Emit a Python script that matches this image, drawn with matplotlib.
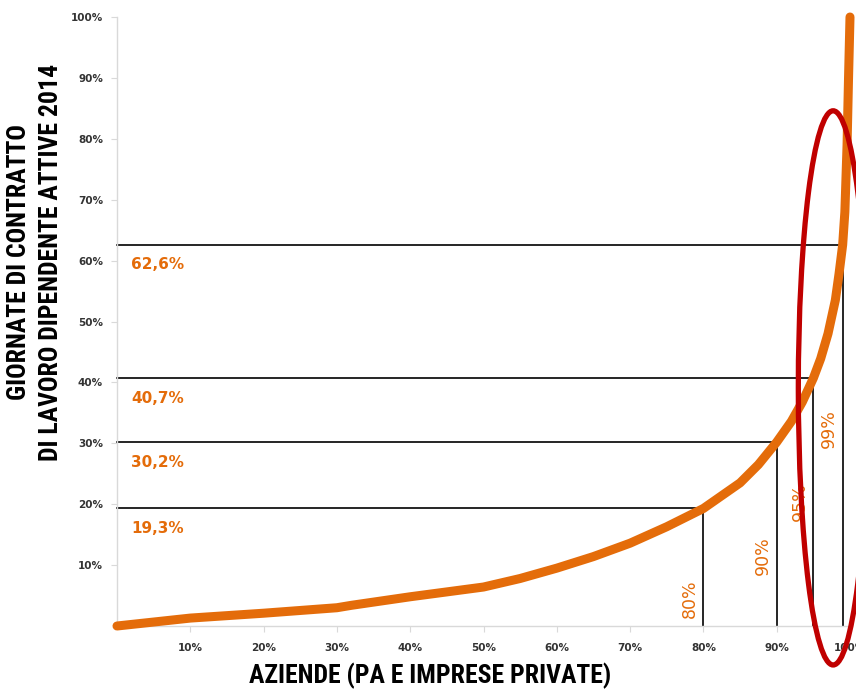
import numpy as np
import matplotlib
matplotlib.use('Agg')
import matplotlib.pyplot as plt
from matplotlib.patches import Ellipse
from matplotlib import font_manager

# Curve data (share of firms vs share of working days)
aziende = [0, 10, 20, 30, 32, 40, 45, 50, 55, 60, 65, 70, 75, 80, 85, 87.5, 90, 92, 93.5, 95,
           96, 97, 98, 98.5, 99, 99.3, 99.6, 99.8, 100]
giornate = [0, 1.3, 2.1, 3.0, 3.4, 4.8, 5.6, 6.4, 7.8, 9.5, 11.4, 13.6, 16.3, 19.3, 23.5, 26.5, 30.2, 33.6, 36.8, 40.7,
            43.9, 48.0, 53.5, 57.8, 62.6, 68, 79, 90, 100]

# Highlighted thresholds
soglie_x = [80, 90, 95, 99]
soglie_y = [19.3, 30.2, 40.7, 62.6]
etichette_x = ['80%', '90%', '95%', '99%']
etichette_y = ['19,3%', '30,2%', '40,7%', '62,6%']

tick_vals = [10, 20, 30, 40, 50, 60, 70, 80, 90, 100]
tick_labels = ['10%', '20%', '30%', '40%', '50%', '60%', '70%', '80%', '90%', '100%']

ORANGE = '#E46C0A'
RED = '#C00000'

# pick a condensed family if one is installed
available = {f.name for f in font_manager.fontManager.ttflist}
narrow = 'DejaVu Sans'
title_size = 14
for cand in ['Liberation Sans Narrow', 'DejaVu Sans Condensed', 'Roboto Condensed', 'Open Sans Condensed']:
    if cand in available:
        narrow = cand
        title_size = 18.5
        break

fig = plt.figure(figsize=(8.56, 6.91), dpi=100)
ax = fig.add_axes([117 / 856, 65 / 691, (850 - 117) / 856, (626 - 17) / 691])
ax.set_xlim(0, 100)
ax.set_ylim(0, 100)

# main curve
ax.plot(aziende, giornate, color=ORANGE, lw=6.5, solid_capstyle='round',
        solid_joinstyle='round', clip_on=False, zorder=3)

# threshold lines and labels
label_y_pos = [4.5, 11.5, 20.5, 32.5]
for sx, sy, lx, ly, py in zip(soglie_x, soglie_y, etichette_x, etichette_y, label_y_pos):
    ax.plot([0, sx, sx], [sy, sy, 0], color='black', lw=1.2, zorder=2, clip_on=False)
    ax.annotate(ly, xy=(0, sy), xytext=(10, -9), textcoords='offset points',
                ha='left', va='top', color=ORANGE, fontsize=11, fontweight='bold')
    ax.annotate(lx, xy=(sx, py), xytext=(-10, 0), textcoords='offset points',
                ha='center', va='center', rotation=90, color=ORANGE, fontsize=12.5)

# red ellipse highlight
ell = Ellipse((97.7, 39.1), width=9.5, height=91, fill=False, edgecolor=RED,
              lw=3.8, clip_on=False, zorder=5)
ax.add_patch(ell)

# axes styling
for s in ['top', 'right']:
    ax.spines[s].set_visible(False)
for s in ['left', 'bottom']:
    ax.spines[s].set_color('#D9D9D9')
    ax.spines[s].set_linewidth(1)
ax.set_xticks(tick_vals)
ax.set_xticklabels(tick_labels)
ax.set_yticks(tick_vals)
ax.set_yticklabels(tick_labels)
ax.tick_params(axis='both', colors='#D9D9D9', labelcolor='#333333', length=4,
               labelsize=7.5)
ax.tick_params(axis='x', pad=8)
ax.tick_params(axis='y', pad=6)
for t in ax.get_xticklabels() + ax.get_yticklabels():
    t.set_fontweight('bold')

fig.text(430 / 856, 2 / 691, 'AZIENDE (PA E IMPRESE PRIVATE)', ha='center', va='bottom',
         fontsize=title_size, fontweight='bold', family=narrow)
fig.text(35 / 856, (691 - 262) / 691, 'GIORNATE DI CONTRATTO\nDI LAVORO DIPENDENTE ATTIVE 2014',
         ha='center', va='center', rotation=90, fontsize=title_size, fontweight='bold',
         family=narrow, linespacing=1.45)

fig.savefig('out.png', dpi=100)
